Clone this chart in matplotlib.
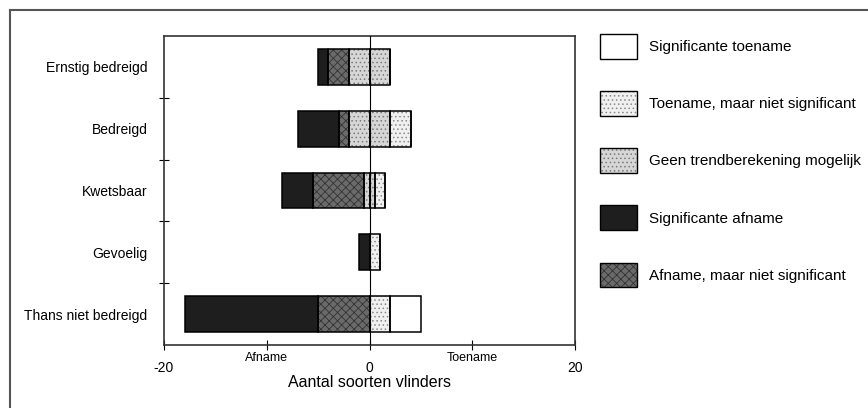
import matplotlib
matplotlib.use("Agg")
from matplotlib import pyplot as plt
from matplotlib.patches import Patch
from matplotlib.lines import Line2D

# Data
categories = ["Ernstig bedreigd", "Bedreigd", "Kwetsbaar", "Gevoelig", "Thans niet bedreigd"]
sig_afname = [1, 4, 3, 1, 13]
afname_niet_sig = [2, 1, 5, 0, 5]
geen_trend = [4, 4, 1, 0, 0]
toename_niet_sig = [0, 2, 1, 1, 2]
sig_toename = [0, 0, 0, 0, 3]

x_ticks = [-20, -10, 0, 10, 20]
x_ticklabels = ["-20", "", "0", "", "20"]
side_labels = {-10: "Afname", 10: "Toename"}

legend_labels = ["Significante toename", "Toename, maar niet significant",
                 "Geen trendberekening mogelijk", "Significante afname",
                 "Afname, maar niet significant"]

# Styles: (facecolor, hatch, hatchcolor)
styles = {
    "sig_toe": ("white", None, "white"),
    "toe_ns": ("#f0f0f0", "....", "#8a8a8a"),
    "geen": ("#d6d6d6", "....", "#7a7a7a"),
    "sig_af": ("#1e1e1e", None, "#1e1e1e"),
    "af_ns": ("#6a6a6a", "xxxx", "#333333"),
}

plt.rcParams["font.family"] = ["Liberation Sans", "DejaVu Sans"]
plt.rcParams["hatch.linewidth"] = 0.6

fig = plt.figure(figsize=(8.68, 4.08), dpi=100)
ax = fig.add_axes([164 / 868, 1 - 345 / 408, 411 / 868, 309 / 408])

y = list(range(len(categories)))
h = 0.58


def draw(values, left, key):
    fc, hatch, hc = styles[key]
    # fill + hatch, then a black outline on top
    ax.barh(y, values, left=left, height=h, color=fc, hatch=hatch,
            edgecolor=hc, linewidth=0, zorder=2)
    ax.barh(y, values, left=left, height=h, fill=False,
            edgecolor="black", linewidth=1.1, zorder=3)


# Negative side, starting from zero
half = [g / 2 for g in geen_trend]
neg_geen = [-v for v in half]
draw(neg_geen, [0] * 5, "geen")
left = neg_geen[:]
neg = [-v for v in afname_niet_sig]
draw(neg, left, "af_ns")
left = [a + b for a, b in zip(left, neg)]
neg = [-v for v in sig_afname]
draw(neg, left, "sig_af")

# Positive side
draw(half, [0] * 5, "geen")
left = half[:]
draw(toename_niet_sig, left, "toe_ns")
left = [a + b for a, b in zip(left, toename_niet_sig)]
draw(sig_toename, left, "sig_toe")

ax.axvline(0, color="black", linewidth=0.8, zorder=4)

# Axes
ax.set_xlim(-20, 20)
ax.set_ylim(4.5, -0.5)
ax.set_yticks(y)
ax.set_yticklabels(categories, fontsize=10)
ax.set_yticks([0.5, 1.5, 2.5, 3.5], minor=True)
ax.tick_params(axis="y", which="major", length=0, pad=12)
ax.tick_params(axis="y", which="minor", direction="inout", length=7, width=0.8)
ax.set_xticks(x_ticks)
ax.set_xticklabels(x_ticklabels, fontsize=10)
ax.tick_params(axis="x", direction="inout", length=7, width=0.8, pad=8)
for s in ax.spines.values():
    s.set_color("#333333")
    s.set_linewidth(1.2)

for xv, txt in side_labels.items():
    ax.annotate(txt, xy=(xv, 0), xycoords=("data", "axes fraction"),
                xytext=(0, -5), textcoords="offset points",
                ha="center", va="top", fontsize=9)

ax.set_xlabel("Aantal soorten vlinders", fontsize=11.5, labelpad=0)

# Legend
keys = ["sig_toe", "toe_ns", "geen", "sig_af", "af_ns"]
handles = []
for k in keys:
    fc, hatch, hc = styles[k]
    fill = Patch(facecolor=fc, hatch=hatch, edgecolor=hc, linewidth=0)
    outline = Patch(fill=False, edgecolor="black", linewidth=1.0)
    handles.append((fill, outline))
fig.legend(handles, legend_labels, loc="upper left",
           bbox_to_anchor=(600 / 868, 1 - 34 / 408), frameon=False,
           fontsize=11, handlelength=2.42, handleheight=2.1,
           labelspacing=2.13, handletextpad=0.78, borderpad=0,
           borderaxespad=0)

# Outer frame (top and left only)
fig.add_artist(Line2D([10 / 868, 1], [1 - 10 / 408, 1 - 10 / 408],
                      color="#555555", linewidth=1.5, transform=fig.transFigure))
fig.add_artist(Line2D([10 / 868, 10 / 868], [0, 1 - 10 / 408],
                      color="#555555", linewidth=1.5, transform=fig.transFigure))

fig.savefig("out.png", dpi=100)
